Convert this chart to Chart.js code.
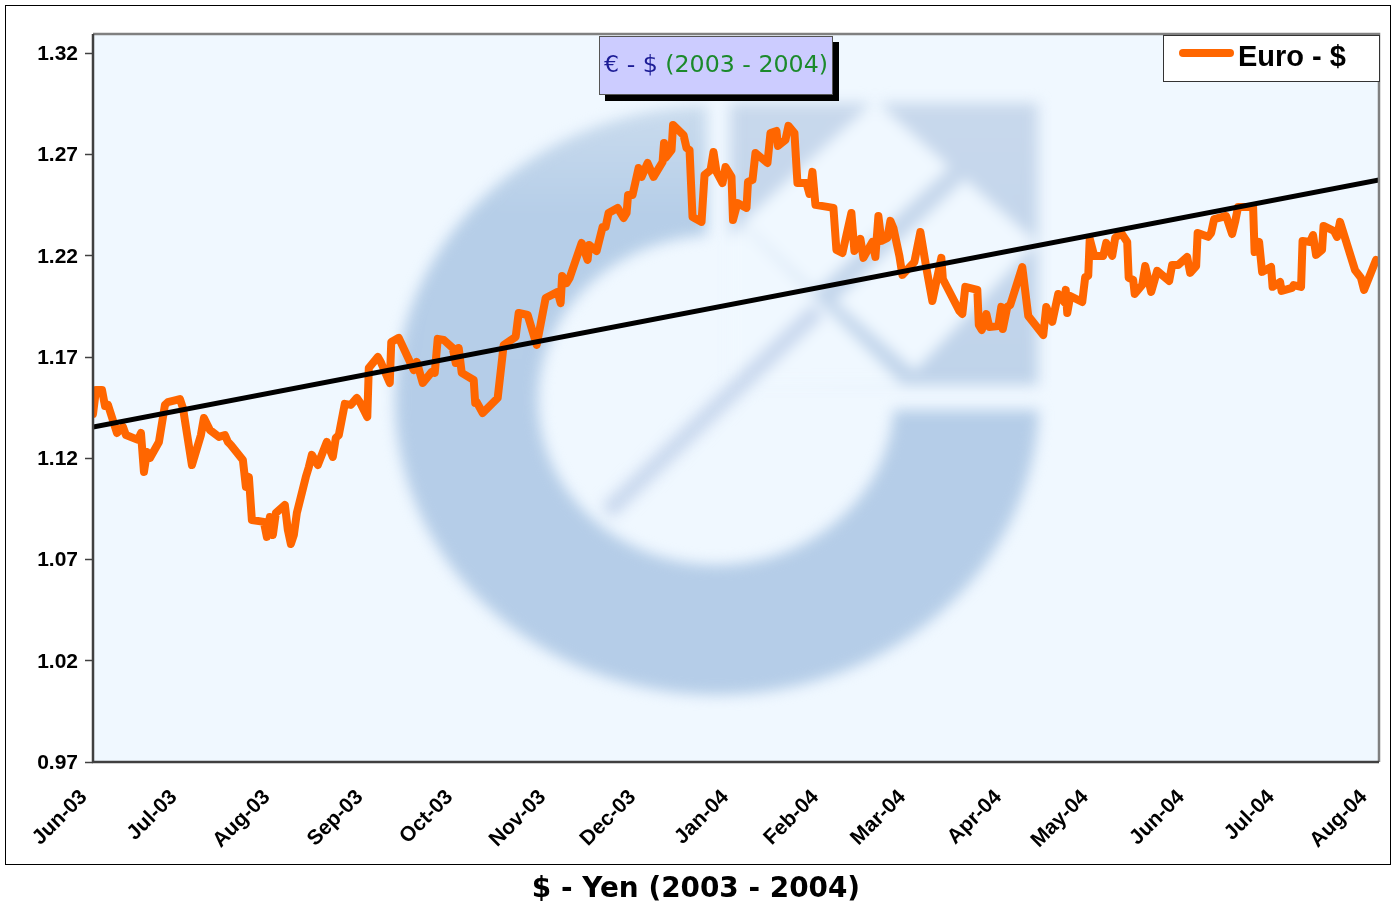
<!DOCTYPE html>
<html>
<head>
<meta charset="utf-8">
<title>Euro - $</title>
<script src="https://cdn.jsdelivr.net/npm/chart.js@4"></script>
<style>
html,body{margin:0;padding:0;background:#fff;width:1396px;height:906px;overflow:hidden}
#wrap{position:absolute;left:0;top:0;width:1396px;height:906px}
canvas{position:absolute;left:0;top:0}
#frame{position:absolute;left:5px;top:5px;width:1384px;height:858px;border:1.5px solid #000;pointer-events:none}
#legend{position:absolute;left:1163px;top:35px;width:215px;height:45px;background:#fff;border:1px solid #333;font:bold 29px "Liberation Sans",Arial,sans-serif;color:#000}
#legend i{position:absolute;left:15px;top:13px;width:55px;height:8px;border-radius:4px;background:#ff6600}
#legend span{position:absolute;left:74px;top:4px;white-space:nowrap}
#titlebox{position:absolute;left:599px;top:36px;width:232px;height:57px;background:#ccccff;border:1px solid #555;box-shadow:6px 6px 0 #000;font:23.7px "DejaVu Sans",Verdana,sans-serif;line-height:54px;text-align:center;white-space:nowrap}
#caption{position:absolute;left:396px;width:600px;top:871px;text-align:center;font:bold 27.9px "DejaVu Sans",Verdana,sans-serif;color:#000;white-space:nowrap}
</style>
</head>
<body>
<div id="wrap">
<canvas id="c" width="1396" height="906"></canvas>
<div id="frame"></div>
<div id="titlebox"><span style="color:#1c1c96">€ - $</span> <span style="color:#1b8a2b">(2003 - 2004)</span></div>
<div id="legend"><i></i><span>Euro - $</span></div>
<div id="caption">$ - Yen (2003 - 2004)</div>
</div>
<script>
const monthLabels = ["Jun-03","Jul-03","Aug-03","Sep-03","Oct-03","Nov-03","Dec-03","Jan-04","Feb-04","Mar-04","Apr-04","May-04","Jun-04","Jul-04","Aug-04"];
const monthDays = [0,30,61,92,122,153,183,214,244,273,305,334,366,396,427];
const yTicks = [0.97,1.02,1.07,1.12,1.17,1.22,1.27,1.32];
const seriesName = "Euro - $";

const euroDays = [0,1,3,4,5,8,10,11,15,16,17,18,19,22,24,25,29,30,33,36,37,39,42,44,45,46,50,51,52,53,57,58,59,60,61,64,65,66,67,68,71,72,73,75,78,80,81,82,84,86,88,89,91.5,92,95,96,99,99.5,102,107,108,110,113,114,115,117,120,121,122,123,127,127.5,128,130,135,137,141,142,145,148,151,155,156,156.5,158,159,163,165,165.5,168,170,171,172,175,177,178,178.5,180,182,183,185,187,190,190.5,191,193,193.5,197,198,199,200,203,204,206,207,208,210,211,213,213.5,215,218,218.5,220,221,225,226,228,228.5,231,232,234,235,238,239,240,241,247,248,250,253,254,256,257,260,261,262,263,265,266,267,269,270,274,276,278,280,283,283.5,289,290,291,295,295.5,296.5,298,299,302,303,303.5,305,306,310,312,317,318,320,322,324,324.5,325,326,330,331,332,332.5,334,337,338,340,341,343,345,345.5,347,347.5,350,351,353,355,359,360,362,365,366,368,368.5,372,373,374,378,380,381,382,387,387.5,389,390,393,393.5,396,396.5,400,400.5,403,403.5,406,407,408,410,410.5,414,415,416,421,423,424,428];
const euroValues = [1.1419,1.1538,1.1538,1.1459,1.1464,1.1325,1.1355,1.1315,1.1291,1.1325,1.1133,1.1231,1.1202,1.1281,1.1464,1.1478,1.1493,1.1449,1.1167,1.1315,1.1399,1.1340,1.1306,1.1315,1.1281,1.1266,1.1192,1.1059,1.1108,1.0895,1.0886,1.0812,1.0910,1.0821,1.0930,1.0970,1.0846,1.0777,1.0821,1.0930,1.1108,1.1157,1.1217,1.1167,1.1281,1.1207,1.1301,1.1315,1.1469,1.1464,1.1498,1.1478,1.1404,1.1646,1.1701,1.1676,1.1572,1.1775,1.1795,1.1636,1.1676,1.1572,1.1627,1.1622,1.1790,1.1785,1.1745,1.1671,1.1745,1.1622,1.1587,1.1473,1.1478,1.1424,1.1498,1.1760,1.1800,1.1918,1.1908,1.1760,1.1992,1.2022,1.1967,1.2101,1.2066,1.2091,1.2264,1.2180,1.2254,1.2224,1.2343,1.2343,1.2412,1.2437,1.2387,1.2412,1.2501,1.2501,1.2634,1.2590,1.2659,1.2590,1.2664,1.2758,1.2684,1.2723,1.2847,1.2797,1.2733,1.2723,1.2392,1.2368,1.2600,1.2624,1.2713,1.2615,1.2560,1.2639,1.2590,1.2377,1.2461,1.2437,1.2565,1.2575,1.2708,1.2659,1.2807,1.2817,1.2743,1.2773,1.2842,1.2807,1.2560,1.2560,1.2506,1.2615,1.2452,1.2437,1.2229,1.2214,1.2412,1.2224,1.2284,1.2190,1.2269,1.2195,1.2397,1.2274,1.2289,1.2373,1.2338,1.2200,1.2106,1.2170,1.2318,1.2140,1.1977,1.2190,1.2086,1.1928,1.1913,1.2047,1.2032,1.1859,1.1834,1.1913,1.1849,1.1854,1.1948,1.1839,1.1948,1.1958,1.2145,1.1903,1.1809,1.1948,1.1874,1.2012,1.1972,1.2032,1.1918,1.2002,1.1972,1.2096,1.2101,1.2284,1.2200,1.2200,1.2264,1.2200,1.2289,1.2313,1.2269,1.2091,1.2081,1.2012,1.2056,1.2150,1.2022,1.2126,1.2076,1.2155,1.2155,1.2195,1.2116,1.2150,1.2313,1.2294,1.2313,1.2382,1.2397,1.2308,1.2368,1.2442,1.2442,1.2219,1.2269,1.2121,1.2145,1.2047,1.2071,1.2027,1.2042,1.2056,1.2047,1.2274,1.2269,1.2303,1.2205,1.2229,1.2348,1.2323,1.2294,1.2368,1.2130,1.2091,1.2032,1.2180];

const trendDays = [0,429];
const trendValues = [1.1355,1.2575];

const xMin = 0, xMax = 429, yMin = 0.97, yMax = 1.3296;

function zip(xs, ys){ return xs.map((x,i)=>({x:x,y:ys[i]})); }

/* Decorative washed-out logo behind the plot */
function buildWatermark(){
  const off = document.createElement('canvas');
  off.width = 1396; off.height = 906;
  const g = off.getContext('2d');
  const bg = '#f0f8ff';
  const blue = g.createLinearGradient(0,100,0,420);
  blue.addColorStop(0,'#cbdcee'); blue.addColorStop(0.35,'#b6cee8'); blue.addColorStop(1,'#b5cde8');
  const soft = g.createLinearGradient(0,100,0,385);
  soft.addColorStop(0,'#c8d8ec'); soft.addColorStop(1,'#bfd3ea');
  const poly = (pts, col) => { g.fillStyle = col; g.beginPath(); pts.forEach((p,i)=> i?g.lineTo(p[0],p[1]):g.moveTo(p[0],p[1])); g.closePath(); g.fill(); };
  // ring, open to the upper right
  g.save();
  g.beginPath();
  g.rect(0,0,707,906);
  g.rect(707,410,700,500);
  g.clip();
  g.fillStyle = blue;
  g.beginPath();
  g.ellipse(717,400,322,295,0,0,Math.PI*2);
  g.ellipse(716,400,178,165,0,0,Math.PI*2);
  g.fill('evenodd');
  g.restore();
  // square with the diamonds
  poly([[730,103],[1038,103],[1038,385],[730,385]], soft);
  poly([[730,238],[742,224],[902,384],[730,385]], bg);
  poly([[742,222],[875,100],[950,167],[815,292]], bg);
  poly([[965,179],[1037,242],[915,371],[835,301]], bg);
  // diagonal bar through the open centre
  g.strokeStyle = '#c9d8ee';
  g.lineWidth = 17;
  g.beginPath(); g.moveTo(607,512); g.lineTo(818,310); g.stroke();
  return off;
}
const watermark = buildWatermark();

const plotDecor = {
  id:'plotDecor',
  beforeDatasetsDraw(chart){
    const a = chart.chartArea, ctx = chart.ctx;
    ctx.save();
    ctx.fillStyle = '#f0f8ff';
    ctx.fillRect(a.left,a.top,a.right-a.left,a.bottom-a.top);
    ctx.beginPath(); ctx.rect(a.left,a.top,a.right-a.left,a.bottom-a.top); ctx.clip();
    ctx.filter = 'blur(7px)';
    ctx.drawImage(watermark,0,0);
    ctx.filter = 'none';
    ctx.restore();
  },
  afterDraw(chart){
    const a = chart.chartArea, ctx = chart.ctx;
    ctx.save();
    ctx.lineWidth = 2.5;
    ctx.strokeStyle = '#808080';
    ctx.beginPath(); ctx.moveTo(a.left,a.top); ctx.lineTo(a.right,a.top); ctx.lineTo(a.right,a.bottom); ctx.stroke();
    ctx.strokeStyle = '#404040';
    ctx.beginPath(); ctx.moveTo(a.left,a.top); ctx.lineTo(a.left,a.bottom); ctx.lineTo(a.right,a.bottom); ctx.stroke();
    ctx.restore();
  }
};

new Chart(document.getElementById('c'),{
  type:'line',
  plugins:[plotDecor],
  data:{datasets:[
    {label:seriesName,data:zip(euroDays,euroValues),borderColor:'#ff6600',borderWidth:8,pointRadius:0,tension:0,borderJoinStyle:'round',borderCapStyle:'round',order:2},
    {label:'Trend',data:zip(trendDays,trendValues),borderColor:'#000000',borderWidth:5,pointRadius:0,tension:0,order:1}
  ]},
  options:{
    responsive:false,animation:false,
    layout:{padding:{left:0,right:17,top:34,bottom:0}},
    plugins:{legend:{display:false},title:{display:false},tooltip:{enabled:false}},
    scales:{
      x:{type:'linear',min:xMin,max:xMax,
        afterBuildTicks(s){ s.ticks = monthDays.map(v=>({value:v})); },
        afterFit(s){ s.height = 144; s.paddingLeft = 0; s.paddingRight = 0; },
        grid:{display:false},border:{display:false},
        ticks:{autoSkip:false,maxRotation:45,minRotation:45,padding:15,labelOffset:-9,color:'#000',
          font:{family:'"Liberation Sans",Arial,sans-serif',weight:'bold',size:21},
          callback(v){ const i = monthDays.indexOf(v); return i>=0?monthLabels[i]:''; }}
      },
      y:{min:yMin,max:yMax,
        afterBuildTicks(s){ s.ticks = yTicks.map(v=>({value:v})); },
        afterFit(s){ s.width = 93; },
        grid:{drawOnChartArea:false,drawTicks:true,tickLength:8,tickColor:'#404040',tickWidth:1.5},border:{display:false},
        ticks:{padding:7,labelOffset:1,color:'#000',autoSkip:false,
          font:{family:'"Liberation Sans",Arial,sans-serif',weight:'bold',size:21},
          callback(v){ return Number(v).toFixed(2); }}
      }
    }
  }
});
</script>
</body>
</html>
